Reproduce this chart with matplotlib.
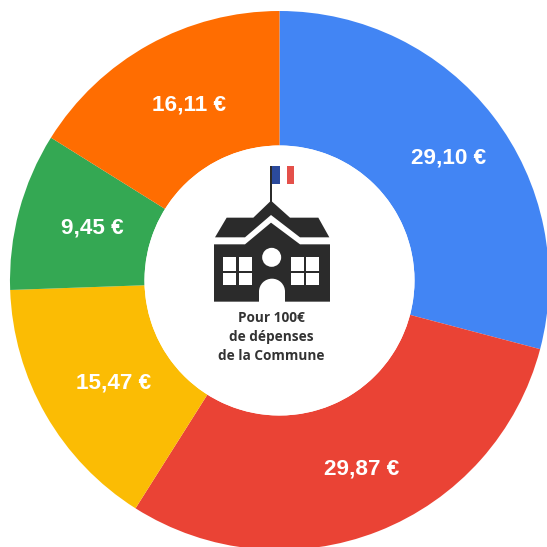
import numpy as np
import matplotlib
matplotlib.use('Agg')
import matplotlib.pyplot as plt
from matplotlib.patches import Rectangle, Polygon, Circle, Wedge

values = [29.10, 29.87, 15.47, 9.45, 16.11]
labels = ['29,10 €', '29,87 €', '15,47 €', '9,45 €', '16,11 €']
colors = ['#4285f4', '#ea4335', '#fbbc04', '#34a853', '#ff6d01']
center_lines = ['Pour 100€', 'de dépenses', 'de la Commune']

# label placement, distance from centre and small angle shift
label_radius = [210, 204, 194, 195, 199]
label_shift = [1.1, -2.2, -1.2, 1.1, 2.1]

plt.rcParams['font.family'] = ['Liberation Sans', 'DejaVu Sans']
fig = plt.figure(figsize=(5.47, 5.47), dpi=100)
ax = fig.add_axes([0, 0, 1, 1])
ax.set_xlim(0, 547)
ax.set_ylim(547, 0)
ax.axis('off')
ax.set_aspect('equal')

cx, cy = 279.5, 280.5
R = 269.5
r = 135
start = 0
for v, c, l, lr, ls in zip(values, colors, labels, label_radius, label_shift):
    a0 = start * 3.6
    a1 = (start + v) * 3.6
    # y axis is flipped so angles run clockwise from +x, shift to start at top
    ax.add_patch(Wedge((cx, cy), R, a0 - 90, a1 - 90, width=R - r, facecolor=c, edgecolor='none'))
    mid = np.deg2rad((a0 + a1) / 2 + ls - 90)
    ax.text(cx + lr * np.cos(mid), cy + lr * np.sin(mid) + 2, l, color='white', fontsize=16.2,
            fontweight='bold', ha='center', va='center')
    start += v

ax.add_patch(Circle((cx, cy), r, facecolor='white', edgecolor='none'))

dark = '#2b2b2b'

def px(pts):
    return [(190 + x / 3, 150 + y / 3) for x, y in pts]

# flag
ax.add_patch(Rectangle((270, 166), 10, 18, facecolor='#2b4a9c'))
ax.add_patch(Rectangle((287, 166), 7, 18, facecolor='#e4504a'))
ax.add_patch(Rectangle((270, 166), 2, 39, facecolor=dark))

# roof and body
ax.add_patch(Polygon(px([(75, 262), (110, 203), (190, 203), (243, 152), (300, 203), (385, 203), (418, 262),
                         (330, 262), (243, 195), (165, 262)]), facecolor=dark))
ax.add_patch(Polygon(px([(72, 283), (165, 283), (243, 218), (330, 283), (420, 283), (420, 455), (72, 455)]),
                     facecolor=dark))
# windows
for x in (100, 303):
    ax.add_patch(Polygon(px([(x, 320), (x + 85, 320), (x + 85, 405), (x, 405)]), facecolor='white'))
    ax.add_patch(Polygon(px([(x + 39, 320), (x + 46, 320), (x + 46, 405), (x + 39, 405)]), facecolor=dark))
    ax.add_patch(Polygon(px([(x, 362), (x + 85, 362), (x + 85, 369), (x, 369)]), facecolor=dark))
# round window and door
ax.add_patch(Circle((190 + 245 / 3, 150 + 322 / 3), 9.5, facecolor='white'))
ax.add_patch(Wedge((190 + 246 / 3, 150 + 425 / 3), 13, 180, 360, facecolor='white'))
ax.add_patch(Polygon(px([(208, 424), (285, 424), (285, 455), (208, 455)]), facecolor='white'))

for y, line in zip([318, 337, 356], center_lines):
    ax.text(271, y, line, color='#333333', fontsize=9.8, fontweight='bold', ha='center', va='center',
            family=['Open Sans', 'DejaVu Sans'])

fig.savefig('out.png', dpi=100)
